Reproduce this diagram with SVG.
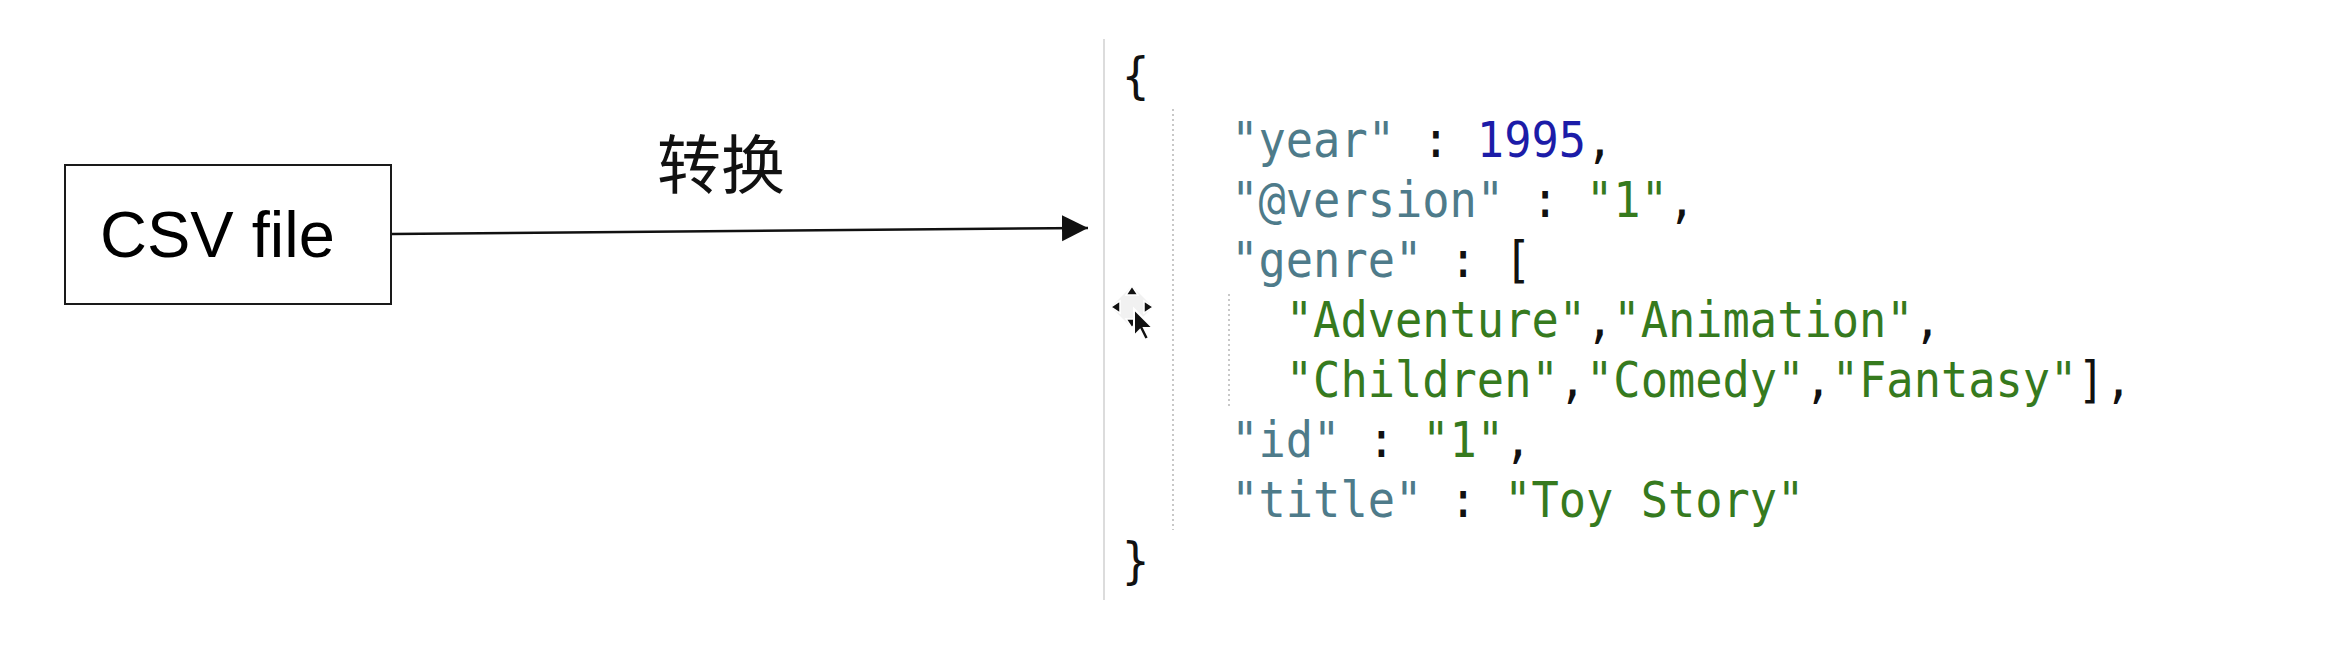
<svg xmlns="http://www.w3.org/2000/svg" width="2350" height="654" viewBox="0 0 2350 654">
  <style>
    .box { fill: #ffffff; stroke: #1a1a1a; stroke-width: 2; }
    .lbl { font-family: "Liberation Sans", Arial, sans-serif; fill: #000; }
    .cjk { font-family: "Noto Sans CJK SC", "Noto Sans", sans-serif; fill: #111; }
    .code { font-family: "DejaVu Sans Mono", "Liberation Mono", monospace; font-size: 50px; fill: #111; white-space: pre; }
    .k { fill: #4e7b8a; }
    .n { fill: #1c1ca8; }
    .s { fill: #367a1e; }
    .p { fill: #111; }
    .guide { stroke: #c8c8c8; stroke-width: 2; stroke-dasharray: 2 3; }
    .edge { stroke: #111; stroke-width: 2.5; fill: none; }
  </style>
  <defs>
    <marker id="arrow" markerUnits="userSpaceOnUse" markerWidth="28" markerHeight="28" refX="26" refY="13" orient="auto">
      <polygon points="0,0 26,13 0,26" fill="#111"/>
    </marker>
  </defs>
  <rect width="2350" height="654" fill="#ffffff"/>

  <g id="csv-node">
    <rect class="box" x="65" y="165" width="326" height="139"/>
    <text class="lbl" x="100" y="257" font-size="65">CSV file</text>
  </g>

  <g id="connectors">
    <line class="edge" x1="392" y1="234" x2="1088" y2="228" marker-end="url(#arrow)"/>
    <text class="cjk" x="657" y="188" font-size="64">转换</text>
  </g>

  <g id="json-node">
    <line x1="1104" y1="39" x2="1104" y2="600" stroke="#dcdcdc" stroke-width="2"/>
    <line class="guide" x1="1173" y1="109" x2="1173" y2="530"/>
    <line class="guide" x1="1229" y1="294" x2="1229" y2="408"/>
    <g transform="translate(1122,0) scale(0.907,1)">
      <text class="code" x="0" y="93" xml:space="preserve"><tspan class="p">{</tspan></text>
      <text class="code" x="120.4" y="157" xml:space="preserve"><tspan class="k">"year"</tspan><tspan class="p"> : </tspan><tspan class="n">1995</tspan><tspan class="p">,</tspan></text>
      <text class="code" x="120.4" y="217" xml:space="preserve"><tspan class="k">"@version"</tspan><tspan class="p"> : </tspan><tspan class="s">"1"</tspan><tspan class="p">,</tspan></text>
      <text class="code" x="120.4" y="277" xml:space="preserve"><tspan class="k">"genre"</tspan><tspan class="p"> : [</tspan></text>
      <text class="code" x="180.6" y="337" xml:space="preserve"><tspan class="s">"Adventure"</tspan><tspan class="p">,</tspan><tspan class="s">"Animation"</tspan><tspan class="p">,</tspan></text>
      <text class="code" x="180.6" y="397" xml:space="preserve"><tspan class="s">"Children"</tspan><tspan class="p">,</tspan><tspan class="s">"Comedy"</tspan><tspan class="p">,</tspan><tspan class="s">"Fantasy"</tspan><tspan class="p">],</tspan></text>
      <text class="code" x="120.4" y="457" xml:space="preserve"><tspan class="k">"id"</tspan><tspan class="p"> : </tspan><tspan class="s">"1"</tspan><tspan class="p">,</tspan></text>
      <text class="code" x="120.4" y="517" xml:space="preserve"><tspan class="k">"title"</tspan><tspan class="p"> : </tspan><tspan class="s">"Toy Story"</tspan></text>
      <text class="code" x="0" y="578" xml:space="preserve"><tspan class="p">}</tspan></text>
    </g>
  </g>

  <g id="cursor">
    <polygon points="1132,286 1153,307 1132,328 1111,307" fill="#eeeeee" opacity="0.8"/>
    <g fill="#111" stroke="#fff" stroke-width="1.5">
      <polygon points="1132,286 1126,295 1138,295"/>
      <polygon points="1132,328 1126,319 1138,319"/>
      <polygon points="1111,307 1120,301 1120,313"/>
      <polygon points="1153,307 1144,301 1144,313"/>
    </g>
    <polygon points="1134,309 1134,336 1140,330 1145,340 1149,338 1144,328 1153,328" fill="#111" stroke="#fff" stroke-width="2"/>
  </g>
</svg>
